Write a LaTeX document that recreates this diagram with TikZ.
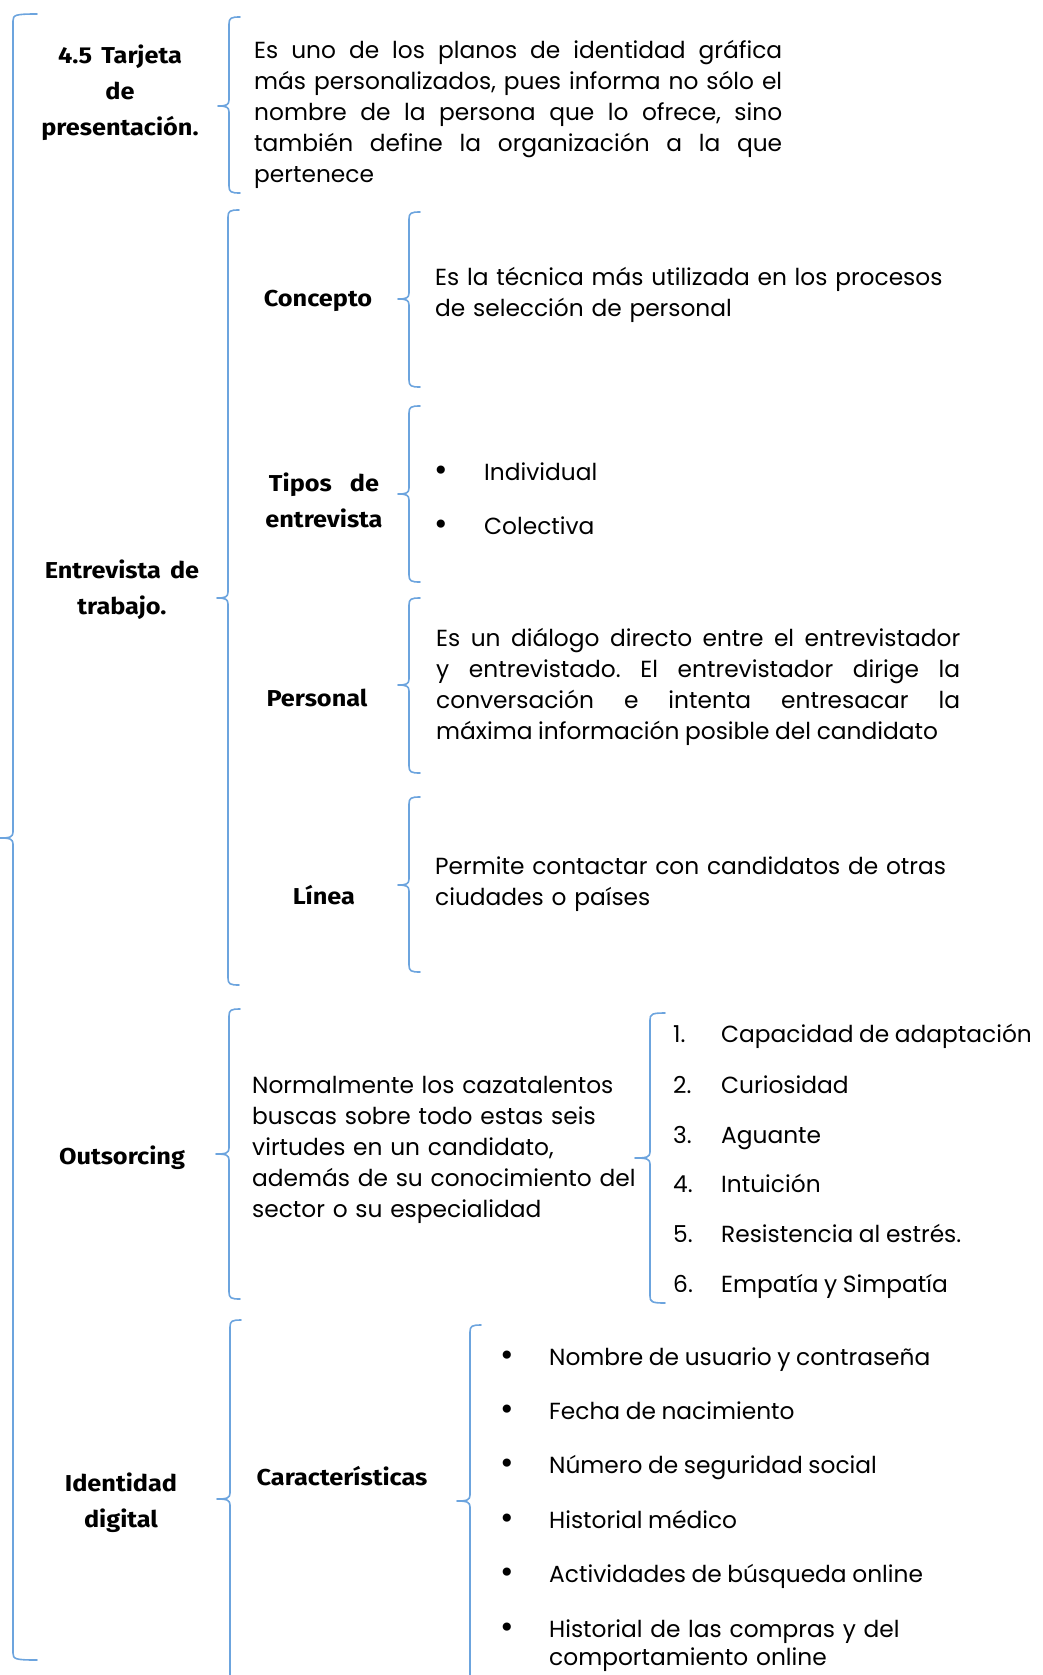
\documentclass[tikz,border=0pt]{standalone}
\usepackage{fontspec}
\setmainfont{Poppins}[WordSpace={0.9,1,2}]
\newfontfamily\headfont{Fira Sans}[FakeStretch=1.1, WordSpace={1.5,1,1}]
\newfontfamily\symfont{DejaVu Sans}
\definecolor{braceblue}{RGB}{108,164,222}
\tikzset{
  brc/.style={draw=braceblue, line width=1.6pt, line cap=round, line join=round},
  head/.style={font=\headfont\bfseries\fontsize{23}{36}\selectfont, align=center, inner sep=0pt},
  body/.style={font=\frenchspacing\fontsize{23.3}{31}\selectfont, inner sep=0pt, anchor=base west},
  para/.style={body, align=justify, text width=#1},
  rag/.style={body, align=left, text width=#1},
  bul/.style={font=\symfont\fontsize{28}{20}\selectfont, inner sep=0pt, anchor=base},
}
\newcommand{\BraceDraw}[6]{%
  \draw[brc] (#1+#5,#2) .. controls (#1+2,#2) and (#1,#2+1) .. (#1,#2+7)
    -- (#1,#3-6) .. controls (#1,#3-1) and (#1-3,#3) .. (#1-#6,#3)
    .. controls (#1-3,#3) and (#1,#3+1) .. (#1,#3+6)
    -- (#1,#4-7) .. controls (#1,#4-1) and (#1+2,#4) .. (#1+#5,#4);
}
\begin{document}
\begin{tikzpicture}[x=1pt,y=-1pt]
\useasboundingbox (0,0) rectangle (1043,1675);
\clip (0,0) rectangle (1043,1675);
% braces
\BraceDraw{13}{14}{838}{1660}{24}{13}
\BraceDraw{229}{17}{106}{193}{11}{11}
\BraceDraw{228}{210}{598}{985}{11}{11}
\BraceDraw{409}{212}{299}{387}{11}{11}
\BraceDraw{409}{406}{494}{582}{11}{11}
\BraceDraw{409}{598}{685}{773}{11}{11}
\BraceDraw{409}{797}{885}{972}{11}{11}
\BraceDraw{229}{1009}{1154}{1299}{11}{13}
\BraceDraw{650}{1013}{1158}{1303}{15}{15}
\BraceDraw{230}{1320}{1499}{1760}{11}{13}
\BraceDraw{470}{1325}{1501}{1760}{11}{13}
% headings
\node[head] (h1) at (120,93) {4.5 Tarjeta\\de\\presentación.};
\node[head] (h2) at (122,590) {Entrevista de\\trabajo.};
\node[head] (c1) at (318,301) {Concepto};
\node[head] (c2) at (324,500) {Tipos \ de\\entrevista};
\node[head] (c3) at (317,698) {Personal};
\node[head] (c4) at (324,895) {Línea};
\node[head] (h3) at (122,1158) {Outsorcing};
\node[head] (h4) at (121,1503) {Identidad\\digital};
\node[head] (c5) at (342,1476) {Características};
% texts
\node[para=528pt] (t1) at (254,59) {Es uno de los planos de identidad gráfica\linebreak más personalizados, pues informa no sólo el\linebreak nombre de la persona que lo ofrece, sino\linebreak también define la organización a la que\linebreak pertenece};
\node[rag=580pt] (t2) at (435,285) {Es la técnica más utilizada en los procesos\\de selección de personal};
\node[bul] (b1) at (441,480) {•};
\node[body] (i1) at (484,480) {Individual};
\node[bul] (b2) at (441,534) {•};
\node[body] (i2) at (484,534) {Colectiva};
\node[para=524pt] (t3) at (436,646) {Es un diálogo directo entre el entrevistador\linebreak y entrevistado. El entrevistador dirige la\linebreak conversación e intenta entresacar la\linebreak máxima información posible del candidato};
\node[rag=580pt] (t4) at (435,874) {Permite contactar con candidatos de otras\\ciudades o países};
\node[rag=420pt] (t5) at (252,1093) {Normalmente los cazatalentos\\buscas sobre todo estas seis\\virtudes en un candidato,\\además de su conocimiento del\\sector o su especialidad};
% numbered list
\node[body] (n1) at (673,1042) {1.};
\node[body] (v1) at (721,1042) {Capacidad de adaptación};
\node[body] (n2) at (673,1093) {2.};
\node[body] (v2) at (721,1093) {Curiosidad};
\node[body] (n3) at (673,1143) {3.};
\node[body] (v3) at (721,1143) {Aguante};
\node[body] (n4) at (673,1192) {4.};
\node[body] (v4) at (721,1192) {Intuición};
\node[body] (n5) at (673,1242) {5.};
\node[body] (v5) at (721,1242) {Resistencia al estrés.};
\node[body] (n6) at (673,1292) {6.};
\node[body] (v6) at (721,1292) {Empatía y Simpatía};
% characteristics
\node[bul] (d1) at (507,1365) {•};
\node[body] (e1) at (549,1365) {Nombre de usuario y contraseña};
\node[bul] (d2) at (507,1419) {•};
\node[body] (e2) at (549,1419) {Fecha de nacimiento};
\node[bul] (d3) at (507,1473) {•};
\node[body] (e3) at (549,1473) {Número de seguridad social};
\node[bul] (d4) at (507,1528) {•};
\node[body] (e4) at (549,1528) {Historial médico};
\node[bul] (d5) at (507,1582) {•};
\node[body] (e5) at (549,1582) {Actividades de búsqueda online};
\node[bul] (d6) at (507,1637) {•};
\node[rag=480pt, font=\frenchspacing\fontsize{23.3}{28}\selectfont] (e6) at (549,1637) {Historial de las compras y del\\comportamiento online};
\end{tikzpicture}
\end{document}
